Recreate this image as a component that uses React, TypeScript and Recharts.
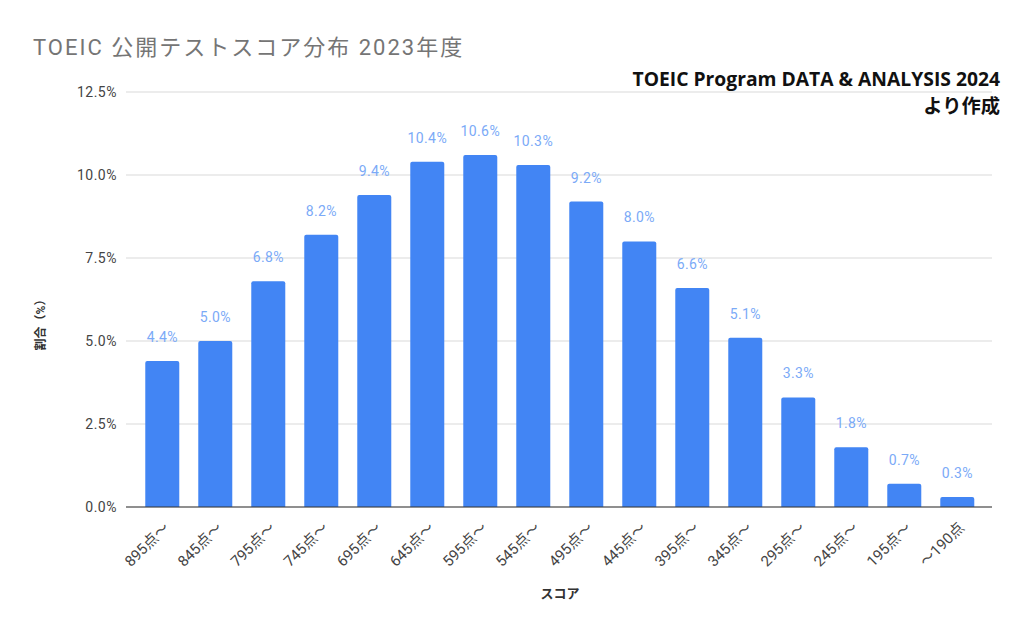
import { Bar, BarChart, CartesianGrid, LabelList, XAxis, YAxis } from 'recharts'

const scores = [
  '895点〜', '845点〜', '795点〜', '745点〜', '695点〜', '645点〜', '595点〜', '545点〜',
  '495点〜', '445点〜', '395点〜', '345点〜', '295点〜', '245点〜', '195点〜', '〜190点',
]
const shares = [4.4, 5.0, 6.8, 8.2, 9.4, 10.4, 10.6, 10.3, 9.2, 8.0, 6.6, 5.1, 3.3, 1.8, 0.7, 0.3]
const yTicks = [0, 2.5, 5, 7.5, 10, 12.5]

const font = "Roboto, 'Noto Sans CJK JP', sans-serif"

export default function App() {
  const data = scores.map((s, i) => ({ score: s, share: shares[i] }))
  const pct = (v: number) => `${Number(v).toFixed(1)}%`

  return (
    <div style={{ position: 'absolute', left: 0, top: 0, width: 1024, height: 635, background: '#fff', fontFamily: font }}>
      <BarChart
        width={1024}
        height={635}
        data={data}
        margin={{ top: 92, right: 32, bottom: 98, left: 0 }}
        barCategoryGap="17.5%"
      >
        <CartesianGrid vertical={false} stroke="#d9d9d9" />
        <XAxis
          dataKey="score"
          height={30}
          interval={0}
          padding={{ left: 10, right: 8 }}
          angle={-45}
          textAnchor="end"
          tickLine={false}
          axisLine={{ stroke: '#333' }}
          tick={{ fontSize: 15, fill: '#444', fontFamily: font }}
          tickMargin={8}
        />
        <YAxis
          width={126}
          domain={[0, 12.5]}
          ticks={yTicks}
          tickFormatter={pct}
          axisLine={false}
          tickLine={false}
          tickMargin={3}
          tick={{ fontSize: 14, fill: '#444', fontFamily: font, letterSpacing: 0.5 }}
        />
        <Bar dataKey="share" fill="#4285F4" radius={[2, 2, 0, 0]} isAnimationActive={false}>
          <LabelList
            dataKey="share"
            position="top"
            offset={19}
            formatter={pct}
            style={{ fill: '#7BAAF7', fontSize: 14, fontFamily: font, letterSpacing: 0.4 }}
          />
        </Bar>
      </BarChart>

      <div style={{ position: 'absolute', left: 33, top: 29, fontSize: 22, color: '#757575', letterSpacing: 2 }}>
        TOEIC 公開テストスコア分布 2023年度
      </div>
      <div
        style={{
          position: 'absolute',
          right: 24,
          top: 65,
          textAlign: 'right',
          fontSize: 19.3,
          fontWeight: 700,
          color: '#111',
          lineHeight: '27px',
          fontFamily: "'Open Sans', 'Noto Sans CJK JP', sans-serif",
        }}
      >
        TOEIC Program DATA &amp; ANALYSIS 2024
        <br />
        より作成
      </div>
      <div
        style={{
          position: 'absolute',
          left: 39,
          top: 322,
          transform: 'translate(-50%, -50%) rotate(-90deg)',
          fontSize: 12,
          fontWeight: 700,
          color: '#333',
          whiteSpace: 'nowrap',
        }}
      >
        割合（%）
      </div>
      <div
        style={{
          position: 'absolute',
          left: 560,
          top: 592,
          transform: 'translate(-50%, -50%)',
          fontSize: 13,
          fontWeight: 700,
          color: '#333',
        }}
      >
        スコア
      </div>
    </div>
  )
}
